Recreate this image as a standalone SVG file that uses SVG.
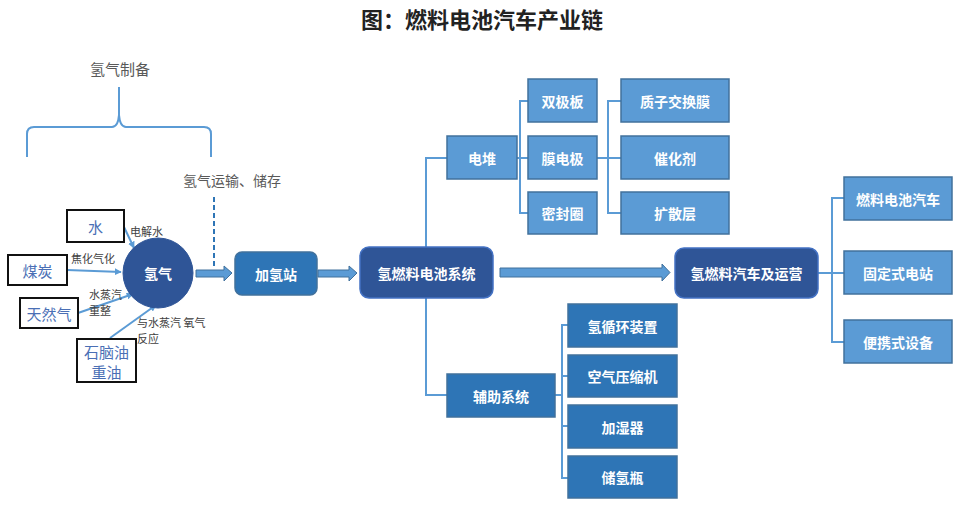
<svg xmlns="http://www.w3.org/2000/svg" width="960" height="506" viewBox="0 0 960 506">
<style>
text{font-family:"Noto Sans CJK SC","Liberation Sans",sans-serif;}
.t{text-anchor:middle;dominant-baseline:central;}
.w{fill:#fff;font-size:14px;font-weight:bold;}
.src rect{fill:#fff;stroke:#111;stroke-width:2;}
.src text{fill:#4a6fb5;font-size:15px;}
.lbl{fill:#404040;font-size:11px;}
.grey{fill:#595959;}
.dark{fill:#2f5597;stroke:#4472c4;stroke-width:1.5;}
.mid{fill:#2e75b6;stroke:#41719c;stroke-width:1.5;}
.light{fill:#5b9bd5;stroke:#41719c;stroke-width:1.5;}
.ln{fill:none;stroke:#5b9bd5;stroke-width:2;}
.blk{fill:#5b9bd5;stroke:#41719c;stroke-width:1;}
</style>
<defs>
<marker id="ah" viewBox="0 0 10 10" refX="9" refY="5" markerWidth="7" markerHeight="7" orient="auto" markerUnits="userSpaceOnUse">
<path d="M0,0 L10,5 L0,10 z" fill="#5b9bd5"/>
</marker>
</defs>

<text id="title" class="t" x="482" y="18" font-size="22" font-weight="bold" fill="#222">图：燃料电池汽车产业链</text>

<g id="prep">
<text class="t grey" x="120" y="68" font-size="15">氢气制备</text>
<path class="ln" d="M27,157 L27,134 Q27,127 34,127 L112,127 Q118,127 119,115 L119,87 M119,115 Q120,127 126,127 L204,127 Q211,127 211,134 L211,157"/>
</g>

<g id="transport">
<text class="t grey" x="232" y="180" font-size="14">氢气运输、储存</text>
<line x1="214" y1="197" x2="214" y2="268" stroke="#2e75b6" stroke-width="2" stroke-dasharray="5,3"/>
</g>

<g id="connectors">
<line class="ln" x1="124" y1="227" x2="134" y2="248" marker-end="url(#ah)"/>
<line class="ln" x1="67" y1="270" x2="121" y2="272" marker-end="url(#ah)"/>
<line class="ln" x1="78" y1="313" x2="133" y2="294" marker-end="url(#ah)"/>
<line class="ln" x1="110" y1="338" x2="156" y2="305" marker-end="url(#ah)"/>
<path class="blk" d="M196,270 L224,270 L224,266 L232,273 L224,281 L224,277 L196,277 z"/>
<path class="blk" d="M318,270 L349,270 L349,266 L357,273 L349,281 L349,277 L318,277 z"/>
<path class="blk" d="M500,268 L662,268 L662,264 L670,272.5 L662,281 L662,277 L500,277 z"/>
<path class="ln" d="M426,247 L426,158 L447,158"/>
<path class="ln" d="M517,158 L520,158 M528,101 L520,101 L520,213 L528,213 M520,158 L528,158"/>
<path class="ln" d="M597,158 L621,158 M621,101 L608,101 L608,213 L621,213"/>
<path class="ln" d="M426,298 L426,395 L447,395"/>
<path class="ln" d="M555,395 L562,395 M568,325 L562,325 L562,478 L568,478 M562,376 L568,376 M562,426 L568,426"/>
<path class="ln" d="M818,273 L844,273 M844,198 L832,198 L832,342 L844,342"/>
</g>

<g id="n-water" class="src"><rect x="67" y="210" width="57" height="32"/><text class="t" x="95.5" y="226">水</text></g>
<g id="n-coal" class="src"><rect x="8" y="255" width="59" height="30"/><text class="t" x="37.5" y="270">煤炭</text></g>
<g id="n-gas" class="src"><rect x="20" y="298" width="58" height="30"/><text class="t" x="49" y="313">天然气</text></g>
<g id="n-oil" class="src"><rect x="77" y="339" width="59" height="43"/><text class="t" x="106.5" y="351" font-size="13.5">石脑油</text><text class="t" x="106.5" y="371" font-size="13.5">重油</text></g>

<g id="labels">
<text class="lbl" x="130" y="236">电解水</text>
<text class="lbl" x="71" y="263">焦化气化</text>
<text class="lbl" x="89" y="299" font-size="10.5">水蒸汽</text>
<text class="lbl" x="89" y="315" font-size="10.5">重整</text>
<text class="lbl" x="137" y="327" font-size="10.5">与水蒸汽 氧气</text>
<text class="lbl" x="137" y="343" font-size="10.5">反应</text>
</g>

<g id="n-h2"><circle cx="158" cy="273" r="35" fill="#2f5597" stroke="#2f5597"/><text class="t w" x="158" y="273">氢气</text></g>
<g id="n-station"><rect class="mid" x="235" y="252" width="82" height="43" rx="7"/><text class="t w" x="276" y="273.5">加氢站</text></g>
<g id="n-fcs"><rect class="dark" x="360" y="247" width="133" height="51" rx="9"/><text class="t w" x="426.5" y="272.5">氢燃料电池系统</text></g>
<g id="n-ops"><rect class="dark" x="675" y="248" width="143" height="50" rx="9"/><text class="t w" x="746.5" y="273">氢燃料汽车及运营</text></g>

<g id="n-stack"><rect class="light" x="447" y="136" width="70" height="43"/><text class="t w" x="482" y="157.5">电堆</text></g>
<g id="n-bp"><rect class="light" x="528" y="79" width="69" height="43"/><text class="t w" x="562.5" y="100.5">双极板</text></g>
<g id="n-mea"><rect class="light" x="528" y="136" width="69" height="43"/><text class="t w" x="562.5" y="157.5">膜电极</text></g>
<g id="n-seal"><rect class="light" x="528" y="192" width="69" height="42"/><text class="t w" x="562.5" y="213">密封圈</text></g>
<g id="n-pem"><rect class="light" x="621" y="79" width="108" height="43"/><text class="t w" x="675" y="100.5">质子交换膜</text></g>
<g id="n-cat"><rect class="light" x="621" y="136" width="108" height="43"/><text class="t w" x="675" y="157.5">催化剂</text></g>
<g id="n-gdl"><rect class="light" x="621" y="192" width="108" height="42"/><text class="t w" x="675" y="213">扩散层</text></g>

<g id="n-aux"><rect class="mid" x="447" y="374" width="108" height="43"/><text class="t w" x="501" y="395.5">辅助系统</text></g>
<g id="n-recirc"><rect class="mid" x="568" y="304" width="109" height="43"/><text class="t w" x="622.5" y="325.5">氢循环装置</text></g>
<g id="n-comp"><rect class="mid" x="568" y="355" width="109" height="42"/><text class="t w" x="622.5" y="376">空气压缩机</text></g>
<g id="n-hum"><rect class="mid" x="568" y="405" width="109" height="43"/><text class="t w" x="622.5" y="426.5">加湿器</text></g>
<g id="n-tank"><rect class="mid" x="568" y="456" width="109" height="42"/><text class="t w" x="622.5" y="477">储氢瓶</text></g>

<g id="n-fcv"><rect class="light" x="844" y="177" width="108" height="43"/><text class="t w" x="898" y="198.5">燃料电池汽车</text></g>
<g id="n-fixed"><rect class="light" x="844" y="251" width="108" height="43"/><text class="t w" x="898" y="272.5">固定式电站</text></g>
<g id="n-port"><rect class="light" x="844" y="320" width="108" height="43"/><text class="t w" x="898" y="341.5">便携式设备</text></g>
</svg>
